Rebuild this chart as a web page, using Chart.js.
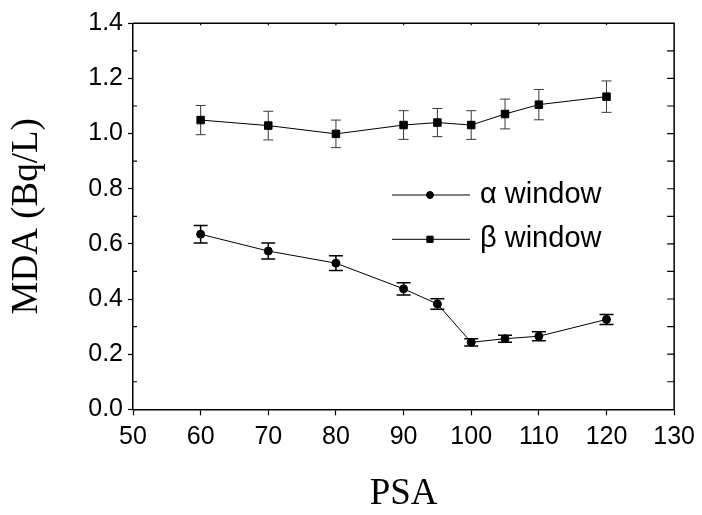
<!DOCTYPE html>
<html><head><meta charset="utf-8">
<script src="https://cdn.jsdelivr.net/npm/chart.js@4/dist/chart.umd.min.js"></script>
<style>html,body{margin:0;padding:0;background:#fff}#wrap{width:702px;height:515px}</style>
</head><body><div id="wrap"><canvas id="c" width="702" height="515"></canvas></div>
<script>
const psa = [60, 70, 80, 90, 95, 100, 105, 110, 120];
const alphaMDA = [0.635, 0.574, 0.530, 0.437, 0.382, 0.243, 0.256, 0.265, 0.326];
const alphaErr = [0.032, 0.029, 0.027, 0.022, 0.019, 0.013, 0.013, 0.016, 0.018];
const betaMDA = [1.049, 1.029, 0.999, 1.031, 1.040, 1.031, 1.071, 1.105, 1.134];
const betaErr = [0.053, 0.052, 0.050, 0.052, 0.051, 0.052, 0.054, 0.055, 0.057];
const xTickLabels = ['50', '60', '70', '80', '90', '100', '110', '120', '130'];
const yTickLabels = ['0.0', '0.2', '0.4', '0.6', '0.8', '1.0', '1.2', '1.4'];
const seriesLabels = ['\u03b1 window', '\u03b2 window'];
const errSets = [alphaErr, betaErr];

const errorBars = {
  id: 'errorBars',
  beforeDatasetsDraw(chart) {
    const {ctx, scales: {x, y}} = chart;
    const styles = [{cap: 7, lw: 1.5, color: '#000'}, {cap: 5, lw: 1, color: '#3a3a3a'}];
    chart.data.datasets.forEach((ds, i) => {
      const st = styles[i];
      ctx.save();
      ctx.strokeStyle = st.color;
      ctx.lineWidth = st.lw;
      ds.data.forEach((p, j) => {
        const e = errSets[i][j];
        const px = x.getPixelForValue(p.x);
        const top = y.getPixelForValue(p.y + e);
        const bot = y.getPixelForValue(p.y - e);
        ctx.beginPath();
        ctx.moveTo(px, top); ctx.lineTo(px, bot);
        ctx.moveTo(px - st.cap, top); ctx.lineTo(px + st.cap, top);
        ctx.moveTo(px - st.cap, bot); ctx.lineTo(px + st.cap, bot);
        ctx.stroke();
      });
      ctx.restore();
    });
  }
};

const frame = {
  id: 'frame',
  afterDraw(chart) {
    const {ctx, chartArea: a, scales: {x, y}} = chart;
    ctx.save();
    ctx.strokeStyle = '#000';
    ctx.lineWidth = 1.5;
    ctx.beginPath();
    ctx.moveTo(a.left, a.top); ctx.lineTo(a.right, a.top); ctx.lineTo(a.right, a.bottom);
    ctx.stroke();
    ctx.lineWidth = 1.2;
    ctx.beginPath();
    y.ticks.forEach(t => {
      const py = y.getPixelForValue(t.value);
      const k = Math.round(t.value * 10);
      if (k > 0 && k < 14) {
        ctx.moveTo(a.right, py); ctx.lineTo(a.right - 7, py);
        if (k % 2 === 1) { ctx.moveTo(a.left, py); ctx.lineTo(a.left + 4, py); }
      }
    });
    x.ticks.forEach(t => {
      const px = x.getPixelForValue(t.value);
      if (t.value > 50 && t.value < 130) { ctx.moveTo(px, a.top); ctx.lineTo(px, a.top + 2); }
    });
    ctx.stroke();
    ctx.restore();
  }
};

const legendRows = {
  id: 'legendRows',
  afterDraw(chart) {
    const {ctx} = chart;
    const rows = [195, 239.3];
    const marks = [{pointStyle: 'circle', radius: 3.4}, {pointStyle: 'rect', radius: 4.4}];
    chart.data.datasets.forEach((ds, i) => {
      const ry = rows[i];
      ctx.save();
      ctx.strokeStyle = '#000';
      ctx.lineWidth = 1;
      ctx.beginPath(); ctx.moveTo(392, ry); ctx.lineTo(470, ry); ctx.stroke();
      ctx.fillStyle = '#000';
      Chart.helpers.drawPoint(ctx, {pointStyle: marks[i].pointStyle, radius: marks[i].radius, rotation: 0, borderWidth: 1}, 430, ry);
      ctx.fill();
      ctx.font = '29px "Liberation Sans", Arial, sans-serif';
      ctx.textBaseline = 'middle';
      ctx.textAlign = 'left';
      ctx.fillText(ds.label, 480, ry);
      ctx.restore();
    });
  }
};

const sansFont = {family: '"Liberation Sans", Arial, sans-serif', size: 25};
const serifFont = {family: '"Liberation Serif", "Times New Roman", serif', size: 37, lineHeight: 1.2};

new Chart(document.getElementById('c'), {
  type: 'line',
  data: {
    datasets: [
      {label: seriesLabels[0], data: psa.map((v, i) => ({x: v, y: alphaMDA[i]})), borderColor: '#000', borderWidth: 1,
       pointStyle: 'circle', pointRadius: 4, pointBackgroundColor: '#000', pointBorderColor: '#000', pointBorderWidth: 1, tension: 0},
      {label: seriesLabels[1], data: psa.map((v, i) => ({x: v, y: betaMDA[i]})), borderColor: '#000', borderWidth: 1,
       pointStyle: 'rect', pointRadius: 5.3, pointBackgroundColor: '#000', pointBorderColor: '#000', pointBorderWidth: 1, tension: 0}
    ]
  },
  options: {
    responsive: false,
    devicePixelRatio: 1,
    animation: false,
    layout: {padding: {top: 23.3, right: 26, left: 0, bottom: 0}},
    plugins: {legend: {display: false}, tooltip: {enabled: false}},
    scales: {
      x: {
        type: 'linear', min: 50, max: 130,
        afterBuildTicks: s => { s.ticks = xTickLabels.map(v => ({value: Number(v)})); },
        afterFit: s => { s.height = 515 - 409.3; },
        ticks: {color: '#000', font: sansFont, padding: 7, maxRotation: 0, autoSkip: false,
                callback: (v) => xTickLabels[xTickLabels.indexOf(String(v))]},
        grid: {drawOnChartArea: false, tickLength: 6, tickColor: '#000', tickWidth: 1.2},
        border: {color: '#000', width: 1.5},
        title: {display: true, text: 'PSA', color: '#000', font: serifFont, padding: {top: 0, bottom: -1.5}}
      },
      y: {
        type: 'linear', min: 0, max: 1.4,
        afterBuildTicks: s => { s.ticks = Array.from({length: 15}, (_, k) => ({value: k / 10})); },
        afterFit: s => { s.width = 133; },
        ticks: {color: '#000', font: sansFont, padding: 5, autoSkip: false,
                callback: (v) => { const k = Math.round(v * 10); return k % 2 === 0 ? yTickLabels[k / 2] : ''; }},
        grid: {drawOnChartArea: false, tickLength: 5, tickWidth: 1.2,
               tickColor: c => (Math.round(c.tick.value * 10) % 2 === 0 ? '#000' : 'rgba(0,0,0,0)')},
        border: {color: '#000', width: 1.5},
        title: {display: true, text: 'MDA (Bq/L)', color: '#000', font: serifFont, padding: {top: 5.3, bottom: 0}}
      }
    }
  },
  plugins: [errorBars, frame, legendRows]
});
</script></body></html>
